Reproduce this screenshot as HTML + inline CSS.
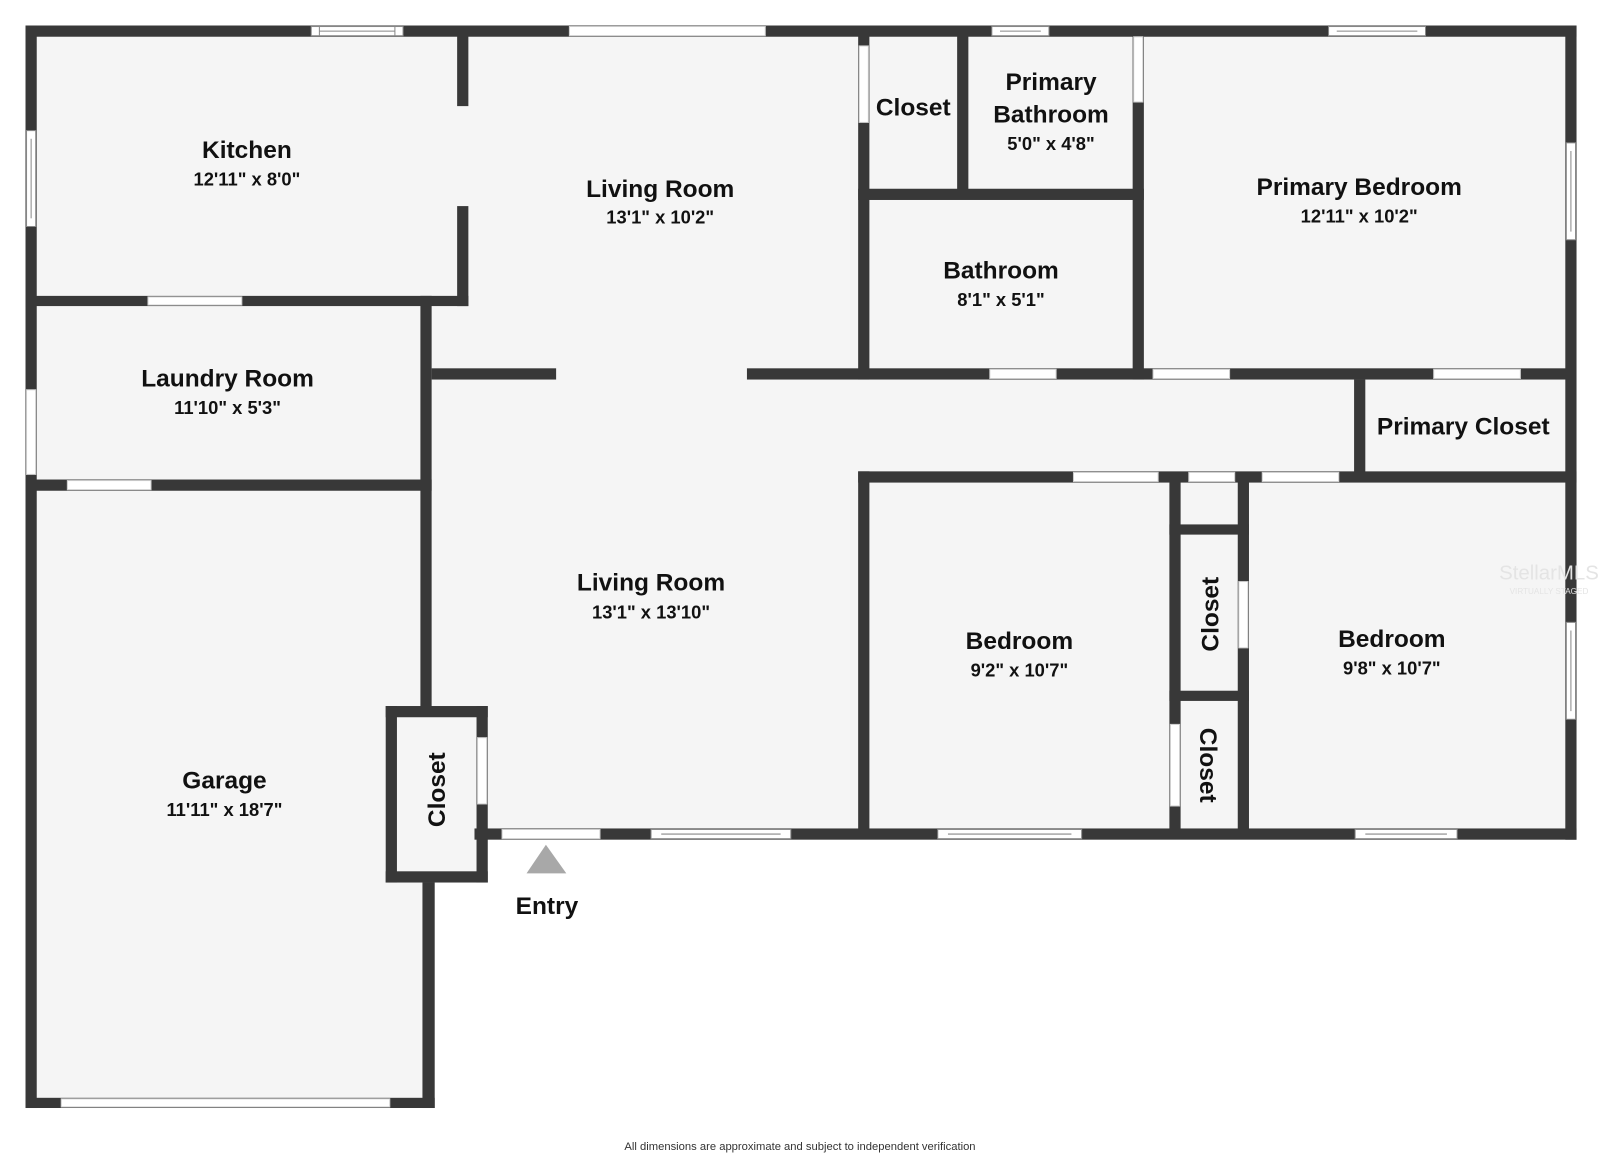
<!DOCTYPE html>
<html><head><meta charset="utf-8"><style>
html,body{margin:0;padding:0;background:#fff;}
svg{display:block;}
text{font-family:"Liberation Sans",sans-serif;font-weight:bold;fill:#111;text-anchor:middle;}
.n{font-size:24px;}
.d{font-size:18px;}
</style></head><body>
<svg width="1600" height="1158" viewBox="0 0 1568 1135" preserveAspectRatio="none" xmlns="http://www.w3.org/2000/svg">
<rect x="0" y="0" width="1568" height="1135" fill="#fff"/>
<polygon points="25,25 1545,25 1545,823 478,823 478,865 426,865 426,1086 25,1086" fill="#f5f5f5"/>
<g fill="#383838">
<!-- outer -->
<rect x="25" y="25" width="1520" height="11"/>
<rect x="25" y="25" width="11" height="1061"/>
<rect x="1534" y="25" width="11" height="798"/>
<rect x="465" y="812" width="1080" height="11"/>
<rect x="25" y="1076" width="401" height="10"/>
<rect x="414" y="865" width="12" height="221"/>
<!-- kitchen -->
<rect x="448" y="35" width="11" height="69"/>
<rect x="448" y="202" width="11" height="98"/>
<rect x="25" y="290" width="434" height="10"/>
<!-- laundry -->
<rect x="412" y="290" width="11" height="405"/>
<rect x="25" y="470" width="398" height="11"/>
<!-- living stubs -->
<rect x="423" y="361" width="122" height="11"/>
<rect x="732" y="361" width="803" height="11"/>
<!-- closet/bath -->
<rect x="841" y="35" width="11" height="337"/>
<rect x="938" y="35" width="11" height="155"/>
<rect x="841" y="185" width="280" height="11"/>
<rect x="1110" y="35" width="11" height="337"/>
<!-- primary closet -->
<rect x="1327" y="372" width="11" height="96"/>
<rect x="841" y="462" width="704" height="11"/>
<!-- bedrooms -->
<rect x="841" y="462" width="11" height="360"/>
<rect x="1146" y="468" width="11" height="354"/>
<rect x="1213" y="468" width="11" height="354"/>
<rect x="1146" y="514" width="78" height="10"/>
<rect x="1146" y="677" width="78" height="10"/>
<!-- small closet -->
<rect x="378" y="692" width="100" height="11"/>
<rect x="378" y="854" width="100" height="11"/>
<rect x="378" y="692" width="11" height="173"/>
<rect x="467" y="692" width="11" height="173"/>
</g>
<!-- openings (white) -->
<g fill="#fff" stroke="#ccc" stroke-width="1">
<rect x="558" y="26" width="192" height="9"/>
<rect x="26" y="382" width="9" height="83"/>
<rect x="145" y="291" width="92" height="8"/>
<rect x="66" y="471" width="82" height="9"/>
<rect x="970" y="362" width="65" height="9"/>
<rect x="1130" y="362" width="75" height="9"/>
<rect x="1405" y="362" width="85" height="9"/>
<rect x="1052" y="463" width="83" height="9"/>
<rect x="1165" y="463" width="45" height="9"/>
<rect x="1237" y="463" width="75" height="9"/>
<rect x="842" y="45" width="9" height="75"/>
<rect x="1111" y="36" width="9" height="64"/>
<rect x="1214" y="570" width="9" height="65"/>
<rect x="1147" y="710" width="9" height="80"/>
<rect x="468" y="723" width="9" height="65"/>
<rect x="492" y="813" width="96" height="9"/>
<rect x="60" y="1077" width="322" height="8"/>
</g>
<!-- windows -->
<g fill="#fff" stroke="#888" stroke-width="1">
<rect x="305" y="26" width="90" height="9"/><line x1="313" y1="30.5" x2="387" y2="30.5"/><line x1="313" y1="26" x2="313" y2="35"/><line x1="387" y1="26" x2="387" y2="35"/>
<rect x="972" y="26" width="56" height="9"/><line x1="980" y1="30.5" x2="1020" y2="30.5"/>
<rect x="1302" y="26" width="95" height="9"/><line x1="1310" y1="30.5" x2="1389" y2="30.5"/>
<rect x="26" y="128" width="9" height="94"/><line x1="30.5" y1="136" x2="30.5" y2="214"/>
<rect x="1535" y="140" width="9" height="95"/><line x1="1539.5" y1="148" x2="1539.5" y2="227"/>
<rect x="1535" y="610" width="9" height="95"/><line x1="1539.5" y1="618" x2="1539.5" y2="697"/>
<rect x="638" y="813" width="137" height="9"/><line x1="648" y1="817.5" x2="765" y2="817.5"/>
<rect x="919" y="813" width="141" height="9"/><line x1="929" y1="817.5" x2="1050" y2="817.5"/>
<rect x="1328" y="813" width="100" height="9"/><line x1="1338" y1="817.5" x2="1418" y2="817.5"/>
</g>
<!-- labels -->
<text class="n" x="242" y="155">Kitchen</text><text class="d" x="242" y="182">12'11" x 8'0"</text>
<text class="n" x="647" y="193">Living Room</text><text class="d" x="647" y="219">13'1" x 10'2"</text>
<text class="n" x="895" y="113">Closet</text>
<text class="n" x="1030" y="88">Primary</text><text class="n" x="1030" y="120">Bathroom</text><text class="d" x="1030" y="147">5'0" x 4'8"</text>
<text class="n" x="1332" y="191">Primary Bedroom</text><text class="d" x="1332" y="218">12'11" x 10'2"</text>
<text class="n" x="981" y="273">Bathroom</text><text class="d" x="981" y="300">8'1" x 5'1"</text>
<text class="n" x="223" y="379">Laundry Room</text><text class="d" x="223" y="406">11'10" x 5'3"</text>
<text class="n" x="1434" y="426">Primary Closet</text>
<text class="n" x="638" y="579">Living Room</text><text class="d" x="638" y="606">13'1" x 13'10"</text>
<text class="n" x="999" y="636">Bedroom</text><text class="d" x="999" y="663">9'2" x 10'7"</text>
<text class="n" x="1364" y="634">Bedroom</text><text class="d" x="1364" y="661">9'8" x 10'7"</text>
<text class="n" x="220" y="773">Garage</text><text class="d" x="220" y="800">11'11" x 18'7"</text>
<text class="n" transform="translate(1194,602) rotate(-90)">Closet</text>
<text class="n" transform="translate(1176,750) rotate(90)">Closet</text>
<text class="n" transform="translate(436,774) rotate(-90)">Closet</text>
<polygon points="535,828 516,856 555,856" fill="#a8a8a8"/>
<text class="n" x="536" y="896">Entry</text>
<text x="1518" y="568" style="font-size:20px;font-weight:normal;fill:#e4e4e4">StellarMLS</text>
<text x="1518" y="582" style="font-size:8px;font-weight:normal;fill:#e4e4e4">VIRTUALLY STAGED</text>
<text x="784" y="1127" style="font-size:11px;font-weight:normal;fill:#333">All dimensions are approximate and subject to independent verification</text>
</svg>
</body></html>
